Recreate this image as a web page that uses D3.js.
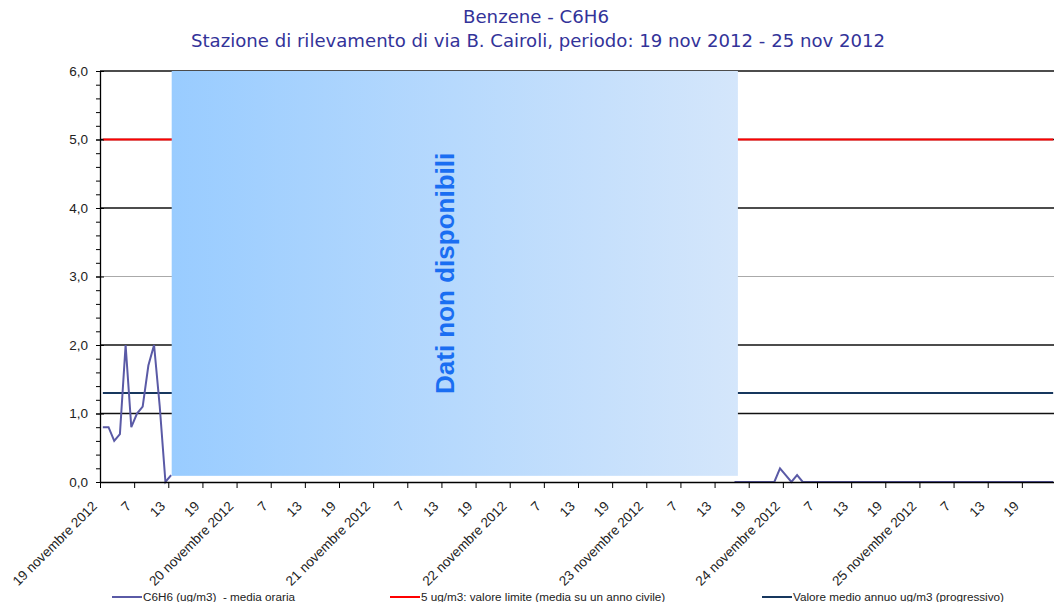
<!DOCTYPE html>
<html>
<head>
<meta charset="utf-8">
<script src="https://cdn.jsdelivr.net/npm/d3@7"></script>
<style>
body { margin: 0; background: #fff; }
text { font-family: Arial, "Liberation Sans", sans-serif; }
</style>
</head>
<body>
<svg id="chart" width="1054" height="602"></svg>
<script>
// days and hourly tick labels
const days = ["19 novembre 2012", "20 novembre 2012", "21 novembre 2012", "22 novembre 2012",
  "23 novembre 2012", "24 novembre 2012", "25 novembre 2012"];
const hourTicks = ["7", "13", "19"];
const yTicks = [0, 1, 2, 3, 4, 5, 6];

// C6H6 hourly means (ug/m3), one array per day, null = no data
const day19 = [0.8, 0.8, 0.6, 0.7, 2.0, 0.8, 1.0, 1.1, 1.7, 2.0, 1.1, 0.0, 0.1,
  null, null, null, null, null, null, null, null, null, null, null];
const day20 = [null, null, null, null, null, null, null, null, null, null, null, null,
  null, null, null, null, null, null, null, null, null, null, null, null];
const day21 = [null, null, null, null, null, null, null, null, null, null, null, null,
  null, null, null, null, null, null, null, null, null, null, null, null];
const day22 = [null, null, null, null, null, null, null, null, null, null, null, null,
  null, null, null, null, null, null, null, null, null, null, null, null];
const day23 = [null, null, null, null, null, null, null, null, null, null, null, null,
  null, null, null, 0.0, 0.0, 0.0, 0.0, 0.0, 0.0, 0.0, 0.0, 0.2];
const day24 = [0.1, 0.0, 0.1, 0.0, 0.0, 0.0, 0.0, 0.0, 0.0, 0.0, 0.0, 0.0,
  0.0, 0.0, 0.0, 0.0, 0.0, 0.0, 0.0, 0.0, 0.0, 0.0, 0.0, 0.0];
const day25 = [0.0, 0.0, 0.0, 0.0, 0.0, 0.0, 0.0, 0.0, 0.0, 0.0, 0.0, 0.0,
  0.0, 0.0, 0.0, 0.0, 0.0, 0.0, 0.0, 0.0, 0.0, 0.0, 0.0, 0.0];

const limitValue = 5;     // valore limite
const annualMean = 1.3;   // valore medio annuo progressivo

// period without data (hours from start, value range)
const gapHours = [12.6, 112.1];
const gapValues = [0.09, 6];

const c6h6 = [].concat(day19, day20, day21, day22, day23, day24, day25);
const nHours = c6h6.length;

const svg = d3.select('#chart');

//scales//
const x = d3.scaleBand().domain(d3.range(nHours)).range([100, 1056]);
const hx = d3.scaleLinear().domain([0, nHours]).range([100, 1056]);
const y = d3.scaleLinear().domain([0, 6]).range([482, 71]);
const cx = i => x(i) + x.bandwidth() / 2;

//gridlines//
svg.append('g')
  .selectAll('line')
  .data(yTicks.filter(d => d > 0))
  .join('line')
  .attr('x1', 100).attr('x2', 1056)
  .attr('y1', d => y(d)).attr('y2', d => y(d))
  .attr('stroke', d => d === 3 ? '#aaa' : '#111')
  .attr('stroke-width', d => d === 3 ? 1 : 1.3);

//limit and annual mean lines//
svg.append('line')
  .attr('x1', cx(0)).attr('x2', cx(nHours - 1))
  .attr('y1', y(limitValue)).attr('y2', y(limitValue))
  .attr('stroke', '#ff0000').attr('stroke-width', 2);

svg.append('line')
  .attr('x1', cx(0)).attr('x2', cx(nHours - 1))
  .attr('y1', y(annualMean)).attr('y2', y(annualMean))
  .attr('stroke', '#17375e').attr('stroke-width', 2);

//hourly line//
const line = d3.line()
  .defined(d => d != null)
  .x((d, i) => cx(i))
  .y(d => y(d));

svg.append('path')
  .attr('d', line(c6h6))
  .attr('fill', 'none')
  .attr('stroke', '#5a5aa6')
  .attr('stroke-width', 2);

//no data box//
const grad = svg.append('defs').append('linearGradient')
  .attr('id', 'gap').attr('x1', 0).attr('x2', 1).attr('y1', 0).attr('y2', 0);
grad.append('stop').attr('offset', 0).attr('stop-color', '#99ccff');
grad.append('stop').attr('offset', 1).attr('stop-color', '#d4e6fb');

svg.append('rect')
  .attr('x', hx(gapHours[0]))
  .attr('width', hx(gapHours[1]) - hx(gapHours[0]))
  .attr('y', y(gapValues[1]))
  .attr('height', y(gapValues[0]) - y(gapValues[1]))
  .attr('fill', 'url(#gap)');

svg.append('text')
  .attr('transform', `translate(${(hx(gapHours[0]) + hx(gapHours[1])) / 2 - 10}, ${(y(gapValues[0]) + y(gapValues[1])) / 2})rotate(-90)`)
  .attr('text-anchor', 'middle')
  .attr('dominant-baseline', 'central')
  .style('font-size', '26px')
  .style('font-weight', 'bold')
  .attr('fill', '#1a6ef2')
  .text('Dati non disponibili');

//y axis//
const fmt = d => d3.format('.1f')(d).replace('.', ',');

svg.append('g')
  .attr('transform', 'translate(100, 0)')
  .call(d3.axisLeft(y).tickValues(d3.range(0, 31).map(i => i / 5)).tickSize(4).tickSizeOuter(0).tickFormat(''))
  .call(g => g.select('.domain').remove())
  .selectAll('line').attr('stroke', '#000');

const yAxis = svg.append('g')
  .attr('transform', 'translate(100, 0)')
  .call(d3.axisLeft(y).tickValues(yTicks).tickSize(4).tickSizeOuter(0).tickPadding(8).tickFormat(fmt));
yAxis.selectAll('.tick line').attr('x1', 4).attr('stroke', '#000');
yAxis.select('.domain').attr('stroke', '#000').attr('stroke-width', 1.3);
yAxis.selectAll('text').style('font-size', '13.5px').attr('fill', '#222');

//x axis//
const xAxis = svg.append('g')
  .attr('transform', 'translate(0, 482)')
  .call(d3.axisBottom(hx).tickValues(d3.range(0, nHours + 1, 6)).tickSize(6).tickSizeOuter(0).tickFormat(''));
xAxis.select('.domain').attr('stroke', '#000').attr('stroke-width', 1.5);
xAxis.selectAll('.tick line').attr('stroke', '#000');

const xLabels = [];
days.forEach((day, k) => {
  xLabels.push({ hour: k * 24, text: day });
  hourTicks.forEach((h, j) => xLabels.push({ hour: k * 24 + (j + 1) * 6, text: h }));
});

svg.append('g')
  .selectAll('text')
  .data(xLabels)
  .join('text')
  .attr('transform', d => `translate(${cx(d.hour) - 5}, 507)rotate(-45)`)
  .attr('text-anchor', 'end')
  .style('font-size', '13.5px')
  .attr('fill', '#222')
  .text(d => d.text);

//title//
const title = svg.append('g')
  .attr('fill', '#333399')
  .style('font-family', 'Tahoma, "DejaVu Sans Condensed", "DejaVu Sans", sans-serif')
  .style('font-size', '17px');
title.append('text')
  .attr('x', 536).attr('y', 23)
  .attr('text-anchor', 'middle')
  .attr('textLength', 146).attr('lengthAdjust', 'spacingAndGlyphs')
  .style('font-family', 'inherit')
  .text('Benzene - C6H6');
title.append('text')
  .attr('x', 538).attr('y', 47)
  .attr('text-anchor', 'middle')
  .attr('textLength', 694).attr('lengthAdjust', 'spacingAndGlyphs')
  .style('font-family', 'inherit')
  .text('Stazione di rilevamento di via B. Cairoli, periodo: 19 nov 2012 - 25 nov 2012');

//legend//
const legend = [
  { name: 'C6H6 (ug/m3)  - media oraria', color: '#5a5aa6', x: 112 },
  { name: '5 ug/m3: valore limite (media su un anno civile)', color: '#ff0000', x: 390 },
  { name: 'Valore medio annuo ug/m3 (progressivo)', color: '#17375e', x: 762 }
];
const items = svg.append('g')
  .selectAll('g')
  .data(legend)
  .join('g')
  .attr('transform', d => `translate(${d.x}, 597)`);
items.append('line')
  .attr('x1', 0).attr('x2', 30)
  .attr('stroke', d => d.color).attr('stroke-width', 2);
items.append('text')
  .attr('x', 31).attr('dy', '0.35em')
  .style('font-size', '11.7px')
  .style('white-space', 'pre')
  .attr('fill', '#222')
  .text(d => d.name);
</script>
</body>
</html>
